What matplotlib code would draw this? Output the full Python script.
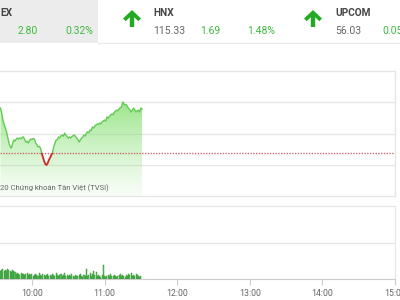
import numpy as np
import matplotlib
matplotlib.use("Agg")
import matplotlib.pyplot as plt
from matplotlib.patches import Rectangle, Polygon
from matplotlib.lines import Line2D

plt.rcParams['font.family'] = ['Roboto', 'DejaVu Sans']

# ---------------- data ----------------
ref_value = 874.77
# price every minute starting 09:34 (minutes since midnight)
price_start = 574
price_values = [
    877.63, 877.30, 876.86, 876.60, 876.35, 876.10, 875.75, 875.40, 875.14, 875.07, 875.35,
    875.58, 875.52, 875.65, 875.71, 875.65, 875.71, 875.66, 875.75, 875.78, 875.60, 875.46,
    875.50, 875.39, 875.55, 875.65, 875.60, 875.68, 875.65, 875.39, 875.30, 875.14, 875.18,
    875.07,
    874.77, 874.50, 874.25, 874.05, 873.98, 874.10, 874.30, 874.45, 874.62, 874.77, 875.15,
    875.40, 875.58, 875.62, 875.78, 875.72, 875.85, 875.90, 875.82, 876.03, 875.90, 875.80,
    875.71, 875.78, 875.71, 875.80, 875.86, 875.90, 875.80, 875.71, 875.60, 875.46, 875.60,
    875.70, 875.78,
    875.90, 875.84, 876.03, 876.10, 876.05, 876.22, 876.18, 876.42, 876.35, 876.48, 876.55,
    876.61, 876.58, 876.67, 876.62, 876.75, 876.80, 876.86, 876.80, 877.06, 876.98, 877.10,
    877.18, 877.25, 877.20, 877.35, 877.42, 877.50, 877.46, 877.58, 877.65, 877.70, 878.02,
    877.90, 877.82, 877.86, 877.70, 877.60, 877.50, 877.38, 877.50, 877.63, 877.50, 877.38,
    877.45, 877.50, 877.38, 877.63, 877.57]
# volume per minute (thousand shares) starting 09:34
vol_start = 574
volumes = [220, 245, 275, 220, 245, 220, 275, 245, 220, 190, 245, 220, 190,
           135, 165, 135, 110, 165, 135, 135, 110, 135, 165, 110, 135,
           110, 135, 80, 110, 135, 110, 80, 165, 110, 80, 135, 110, 80, 110, 135, 80,
           110, 80, 135, 110, 80, 165, 110, 80, 110, 135, 80, 110, 165, 80, 110,
           80, 110, 80, 135, 80, 55, 110, 80, 80, 110, 135, 80, 55, 110, 80,
           275,
           80, 110, 165, 80, 135,
           220, 110, 190,
           80, 110, 80, 55,
           110, 385,
           80, 55, 80, 110, 80, 135, 80, 80, 110, 80, 55, 80, 110, 135, 80, 110, 80, 55,
           110, 80, 135, 110, 165, 80, 110, 80, 135, 110, 80, 55, 80]
hour_ticks = [600, 660, 720, 780, 840, 900]
hour_labels = ["10:00", "11:00", "12:00", "13:00", "14:00", "15:00"]

header_names = ["EX", "HNX", "UPCOM"]
header_values = ["", "115.33", "56.03"]
header_changes = ["2.80", "1.69", "0.05"]
header_pcts = ["0.32%", "1.48%", ""]

# ---------------- figure ----------------
W, H = 400, 300
fig = plt.figure(figsize=(4, 3), dpi=100)
fig.patch.set_facecolor('white')

def fx(x):
    return x / W

def fy(y):
    return 1 - y / H

def px_axes(l, t, r, b):
    return fig.add_axes([l / W, 1 - b / H, (r - l) / W, (b - t) / H])

GRID = '#e6e6e6'
GREEN_TXT = '#3dbb3d'
XMIN, XMAX = 573.6, 900

# header background
fig.add_artist(Rectangle((0, fy(43)), fx(98), 43 / H, transform=fig.transFigure,
                         facecolor='#ececec', edgecolor='none', zorder=0))
fig.add_artist(Line2D([fx(98), 1], [fy(43), fy(43)], transform=fig.transFigure,
                      color='#e8e8e8', lw=0.8))

name_x = [0.5, 153, 335]
val_x = [None, 153.5, 335]
chg_x = [17.5, 200, 382]
pct_x = [65, 247, None]
arrow_cx = [None, 132, 313]
for i in range(3):
    fig.text(fx(name_x[i]), fy(12.5), header_names[i], fontsize=7.3, fontweight='bold',
             color='#444444', ha='left', va='center')
    if header_values[i]:
        fig.text(fx(val_x[i]), fy(31.5), header_values[i], fontsize=7.5, color='#666666',
                 ha='left', va='center')
    if header_changes[i]:
        fig.text(fx(chg_x[i]), fy(31.5), header_changes[i], fontsize=7.5, color=GREEN_TXT,
                 ha='left', va='center')
    if header_pcts[i]:
        fig.text(fx(pct_x[i]), fy(31.5), header_pcts[i], fontsize=7.5, color=GREEN_TXT,
                 ha='left', va='center')
    if arrow_cx[i] is not None:
        cx, ty = arrow_cx[i], 10
        shape = [(0, 0), (9, 8.5), (6.3, 11.2), (2.2, 7.2), (2.2, 17), (-2.2, 17),
                 (-2.2, 7.2), (-6.3, 11.2), (-9, 8.5)]
        pts = [(fx(cx + dx), fy(ty + dy)) for dx, dy in shape]
        fig.add_artist(Polygon(pts, closed=True, transform=fig.transFigure,
                               facecolor='#22aa22', edgecolor='none'))

# ---------------- price panel ----------------
ax = px_axes(0, 71, 395, 196)
t = price_start + np.arange(len(price_values))
v = np.array(price_values)

for g in [874, 876, 878]:
    ax.axhline(g, color=GRID, lw=1, zorder=1)

# gradient fill
poly = ax.fill_between(t, v, 872, facecolor='none', edgecolor='none')
grad = np.linspace(0, 1, 256)
img = np.zeros((256, 1, 4))
img[:, 0, 0] = 0.52
img[:, 0, 1] = 0.88
img[:, 0, 2] = 0.44
img[:, 0, 3] = 0.06 + 0.76 * grad ** 1.2
im = ax.imshow(img, extent=[t[0], t[-1], 872, 878.1], aspect='auto', origin='lower',
               zorder=2, interpolation='bilinear')
im.set_clip_path(poly.get_paths()[0], transform=ax.transData)
ax.set_xlim(XMIN, XMAX)
ax.set_ylim(872, 880)

ln_g, = ax.plot(t, v, color='#62cc52', lw=1.0, zorder=4)
ln_g.set_clip_path(Rectangle((XMIN, ref_value), XMAX - XMIN, 20, transform=ax.transData))
ln_r, = ax.plot(t, v, color='#cc2a22', lw=1.3, zorder=4)
ln_r.set_clip_path(Rectangle((XMIN, 860), XMAX - XMIN, ref_value - 860, transform=ax.transData))

ax.axhline(ref_value, color='#c85a64', lw=1.0, ls=(0, (1, 1)), alpha=0.9, zorder=5)

ax.spines['left'].set_visible(False)
for s in ['top', 'right', 'bottom']:
    ax.spines[s].set_color(GRID)
    ax.spines[s].set_linewidth(1)
ax.set_xticks([])
ax.set_yticks([])
ax.patch.set_alpha(0)

fig.text(fx(0), fy(188), "20 Chứng khoán Tân Việt (TVSI)", fontsize=5.5, color='#666666',
         ha='left', va='center')

# ---------------- volume panel ----------------
axv = px_axes(0, 206, 395, 279)
axv.set_xlim(XMIN, XMAX)
axv.set_ylim(0, 2000)
axv.axhline(1000, color=GRID, lw=1, zorder=0)
tv = vol_start + np.arange(len(volumes))
axv.bar(tv, volumes, width=0.85, color='#5cc65a', edgecolor='#2f8a2f', linewidth=0.3, zorder=2)
axv.spines['left'].set_visible(False)
for s in ['top', 'right']:
    axv.spines[s].set_color(GRID)
axv.spines['bottom'].set_color('#cccccc')
axv.set_yticks([])
axv.set_xticks(hour_ticks)
axv.set_xticklabels(hour_labels)
axv.tick_params(axis='x', direction='out', length=4, width=0.8, color='#cccccc',
                labelsize=6.3, labelcolor='#666666', pad=3)
for lab in axv.get_xticklabels():
    lab.set_clip_on(False)

fig.savefig("out.png", dpi=100, facecolor='white')
